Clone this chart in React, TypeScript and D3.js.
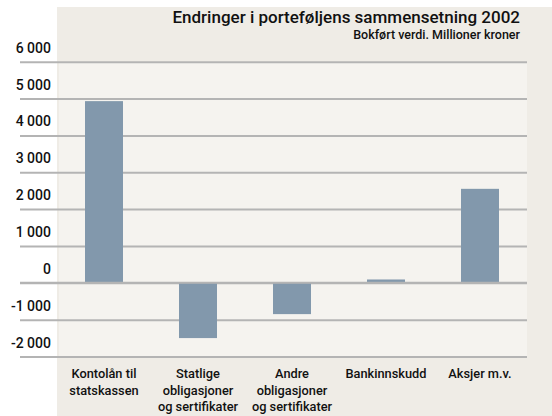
import React, {useEffect, useRef} from 'react';
import * as d3 from 'd3';

const categories = ['Kontolån til statskassen', 'Statlige obligasjoner og sertifikater', 'Andre obligasjoner og sertifikater', 'Bankinnskudd', 'Aksjer m.v.'];
const categoryLines = [['Kontolån til', 'statskassen'], ['Statlige', 'obligasjoner', 'og sertifikater'], ['Andre', 'obligasjoner', 'og sertifikater'], ['Bankinnskudd'], ['Aksjer m.v.']];
const values = [4930, -1500, -850, 90, 2550];
const yTicks = [-2000, -1000, 0, 1000, 2000, 3000, 4000, 5000, 6000];

const title = 'Endringer i porteføljens sammensetning 2002';
const subtitle = 'Bokført verdi. Millioner kroner';

const width = 552;
const height = 416;
const font = 'Roboto, "DejaVu Sans", sans-serif';

function App() {
  const chartRef = useRef(null);

  useEffect(() => {
    const svg = d3.select(chartRef.current);
    svg.selectAll('*').remove();

    const xScale = d3.scaleBand()
      .domain(categories)
      .range([57, 527])
      .paddingInner(0.596)
      .paddingOuter(0.298);
    const yScale = d3.scaleLinear()
      .domain([-2000, 6000])
      .range([356.5, 61.7]);

    const fmt = d3.formatLocale({decimal: ',', thousands: ' ', grouping: [3], currency: ['', ' kr']}).format(',d');

    // panels
    svg.append('rect')
      .attr('x', 57).attr('y', 7)
      .attr('width', width - 57).attr('height', height - 7)
      .attr('fill', '#efece6');
    svg.append('rect')
      .attr('x', 59).attr('y', yScale(6000))
      .attr('width', 527 - 59).attr('height', yScale(-2000) - yScale(6000))
      .attr('fill', '#f5f3ef');

    // grid
    const grid = d3.axisLeft(yScale)
      .tickValues(yTicks)
      .tickSize(-(527 - 20))
      .tickFormat('' as any);
    svg.append('g')
      .attr('transform', 'translate(20,0)')
      .call(grid)
      .call((g: any) => g.select('.domain').remove())
      .call((g: any) => g.selectAll('.tick line').attr('stroke', '#b4b4b4').attr('stroke-width', 2));

    // bars
    svg.append('g')
      .selectAll('rect')
      .data(values)
      .enter()
      .append('rect')
      .attr('x', (d, i) => xScale(categories[i]) as number)
      .attr('width', xScale.bandwidth())
      .attr('y', d => yScale(Math.max(0, d)))
      .attr('height', d => Math.abs(yScale(d) - yScale(0)))
      .attr('fill', '#8298ac');

    // zero line on top
    svg.append('line')
      .attr('x1', 20).attr('x2', 527)
      .attr('y1', yScale(0)).attr('y2', yScale(0))
      .attr('stroke', '#b4b4b4').attr('stroke-width', 2);

    // y tick labels
    svg.append('g')
      .selectAll('text')
      .data(yTicks)
      .enter()
      .append('text')
      .attr('x', 51)
      .attr('y', d => yScale(d) - 9)
      .attr('text-anchor', 'end')
      .attr('font-family', font)
      .attr('font-weight', 500)
      .attr('font-size', 14)
      .attr('fill', '#111')
      .text(d => fmt(d).replace('−', '-'));

    // category labels
    const cat = svg.append('g')
      .selectAll('text')
      .data(categoryLines)
      .enter()
      .append('text')
      .attr('x', (d, i) => (xScale(categories[i]) as number) + xScale.bandwidth() / 2)
      .attr('y', 378)
      .attr('text-anchor', 'middle')
      .attr('font-family', font)
      .attr('font-weight', 500)
      .attr('font-size', 12.8)
      .attr('fill', '#111');
    cat.selectAll('tspan')
      .data(d => d)
      .enter()
      .append('tspan')
      .attr('x', function () { return (this as any).parentNode.getAttribute('x'); })
      .attr('dy', (d, i) => i === 0 ? 0 : 16.5)
      .text(d => d);

    // titles
    svg.append('text')
      .attr('x', 520).attr('y', 23)
      .attr('text-anchor', 'end')
      .attr('font-family', font)
      .attr('font-weight', 500)
      .attr('font-size', 17)
      .attr('fill', '#111')
      .text(title);
    svg.append('text')
      .attr('x', 520).attr('y', 38.5)
      .attr('text-anchor', 'end')
      .attr('font-family', font)
      .attr('font-weight', 500)
      .attr('font-size', 12.5)
      .attr('fill', '#111')
      .text(subtitle);
  });

  return (
    <svg ref={chartRef} width={width} height={height}
         style={{position: 'absolute', left: 0, top: 0, background: '#ffffff'}}/>
  );
}

export default App;
